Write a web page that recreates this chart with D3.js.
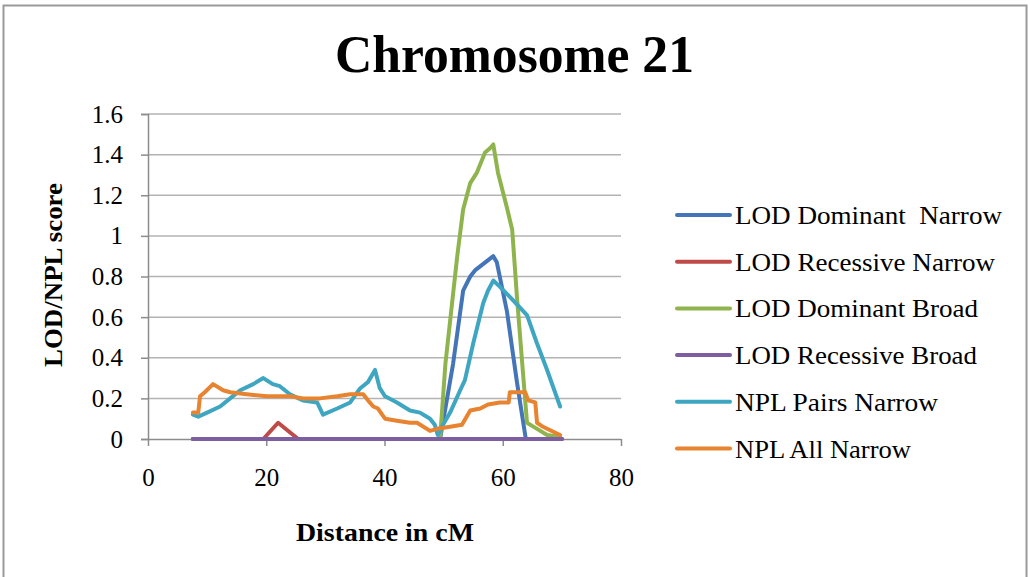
<!DOCTYPE html>
<html>
<head>
<meta charset="utf-8">
<script src="https://d3js.org/d3.v7.min.js"></script>
<style>
  body { margin: 0; background: #fff; }
  text { font-family: "Liberation Serif", "Times New Roman", serif; fill: #000; }
</style>
</head>
<body>
<div id="chart"></div>
<script>
// x positions (cM) and scores per series
const domNarrowX = [7.6, 49.4, 51.6, 53.3, 54.5, 55.3, 58.4, 59.0, 60.7, 62.4, 63.9, 70];
const domNarrowY = [0, 0, 0.37, 0.73, 0.80, 0.83, 0.90, 0.87, 0.63, 0.28, 0, 0];

const recNarrowX = [7.6, 19.5, 22.0, 25.4, 70];
const recNarrowY = [0, 0, 0.08, 0, 0];

const domBroadX = [7.6, 49.4, 50.3, 52.3, 53.3, 54.5, 55.6, 57.0, 57.8, 58.4, 59.2, 60.7, 61.6, 62.4, 63.3, 64.1, 65.8, 67.5, 69.7];
const domBroadY = [0, 0, 0.37, 0.90, 1.13, 1.26, 1.31, 1.41, 1.43, 1.45, 1.31, 1.14, 1.03, 0.70, 0.37, 0.08, 0.05, 0.02, 0.01];

const recBroadX = [7.6, 70];
const recBroadY = [0, 0];

const nplPairsX = [7.6, 8.5, 10, 12.2, 13.9, 15.6, 17.8, 19.5, 21.1, 22.3, 24, 26.2, 28.6, 29.6, 32, 34.2, 35.9, 37.2, 38.4, 39.2, 40.1, 42.1, 44.3, 46, 47.7, 48.5, 49.0, 49.7, 51.1, 52.8, 53.6, 55, 56.7, 57.5, 58.4, 59.5, 61.2, 64.1, 65.8, 67.5, 69.7];
const nplPairsY = [0.12, 0.11, 0.13, 0.16, 0.20, 0.24, 0.27, 0.30, 0.27, 0.26, 0.22, 0.19, 0.18, 0.12, 0.15, 0.18, 0.25, 0.28, 0.34, 0.25, 0.21, 0.18, 0.14, 0.13, 0.10, 0.07, 0.02, 0.06, 0.13, 0.24, 0.29, 0.47, 0.67, 0.73, 0.78, 0.75, 0.70, 0.61, 0.47, 0.34, 0.16];

const nplAllX = [7.6, 8.5, 8.8, 9.6, 11, 12.7, 13.9, 16.7, 20.1, 24, 26.2, 29.1, 32, 34.2, 36.4, 37.5, 38.1, 38.9, 39.6, 40.1, 42.1, 44.3, 45.5, 47.7, 48.9, 51.1, 53.1, 54.5, 56.2, 57.5, 59.5, 61.0, 61.2, 63.8, 64.3, 65.5, 65.8, 66.8, 69.7];
const nplAllY = [0.13, 0.13, 0.21, 0.23, 0.27, 0.24, 0.23, 0.22, 0.21, 0.21, 0.20, 0.20, 0.21, 0.22, 0.22, 0.18, 0.16, 0.15, 0.12, 0.10, 0.09, 0.08, 0.08, 0.04, 0.05, 0.06, 0.07, 0.14, 0.15, 0.17, 0.18, 0.18, 0.23, 0.23, 0.19, 0.18, 0.08, 0.06, 0.02];

const seriesNames = ['LOD Dominant  Narrow', 'LOD Recessive Narrow', 'LOD Dominant Broad', 'LOD Recessive Broad', 'NPL Pairs Narrow', 'NPL All Narrow'];
const seriesColors = ['#4475b8', '#be4b48', '#8fb44e', '#7d5ea0', '#3fa6c2', '#e8832f'];
const xTicks = [0, 20, 40, 60, 80];
const yTicks = [0, 0.2, 0.4, 0.6, 0.8, 1, 1.2, 1.4, 1.6];

const width = 1030, height = 577;
const plot = { left: 148, right: 621, top: 114, bottom: 439 };

const svg = d3.select('#chart').append('svg')
  .attr('width', width)
  .attr('height', height);

// 外枠
svg.append('rect')
  .attr('x', 3.5).attr('y', 5.5)
  .attr('width', 1023).attr('height', 600)
  .attr('fill', '#fff')
  .attr('stroke', '#9a9a9a')
  .attr('stroke-width', 2);

const x = d3.scaleLinear().domain([0, 80]).range([plot.left, plot.right]);
const y = d3.scaleLinear().domain([0, 1.6]).range([plot.bottom, plot.top]);

// gridlines
svg.append('g')
  .selectAll('line')
  .data(yTicks.slice(1))
  .enter().append('line')
  .attr('x1', plot.left).attr('x2', plot.right)
  .attr('y1', d => y(d)).attr('y2', d => y(d))
  .attr('stroke', '#b3b3b3')
  .attr('stroke-width', 1.5);

// y axis
const yAxis = svg.append('g')
  .attr('transform', `translate(${plot.left},0)`)
  .call(d3.axisLeft(y).tickValues(yTicks).tickSize(7).tickPadding(18).tickFormat(d3.format('')));
yAxis.selectAll('line').attr('stroke', '#8c8c8c').attr('stroke-width', 1.5);
yAxis.select('.domain').attr('stroke', '#8c8c8c').attr('stroke-width', 1.5);
yAxis.selectAll('text')
  .style('font-family', '"Liberation Serif", serif')
  .style('font-size', '25px')
  .attr('fill', '#000');

// x axis
const xAxis = svg.append('g')
  .attr('transform', `translate(0,${plot.bottom})`)
  .call(d3.axisBottom(x).tickValues(xTicks).tickSize(7).tickPadding(22).tickSizeOuter(0));
xAxis.selectAll('line').attr('stroke', '#8c8c8c').attr('stroke-width', 1.5);
xAxis.select('.domain').attr('stroke', '#8c8c8c').attr('stroke-width', 1.5);
xAxis.selectAll('text')
  .style('font-family', '"Liberation Serif", serif')
  .style('font-size', '25px')
  .attr('fill', '#000');

// series lines
const seriesData = [
  [domNarrowX, domNarrowY],
  [recNarrowX, recNarrowY],
  [domBroadX, domBroadY],
  [recBroadX, recBroadY],
  [nplPairsX, nplPairsY],
  [nplAllX, nplAllY]
].map(s => s[0].map((v, i) => [v, s[1][i]]));

const line = d3.line()
  .x(d => x(d[0]))
  .y(d => y(d[1]));

svg.append('g')
  .selectAll('path')
  .data(seriesData)
  .enter().append('path')
  .attr('d', line)
  .attr('fill', 'none')
  .attr('stroke', (d, i) => seriesColors[i])
  .attr('stroke-width', 4)
  .attr('stroke-linejoin', 'round')
  .attr('stroke-linecap', 'round');

// title
svg.append('text')
  .attr('x', 514.5).attr('y', 72)
  .attr('text-anchor', 'middle')
  .attr('textLength', 359)
  .attr('lengthAdjust', 'spacingAndGlyphs')
  .style('font-size', '52px')
  .style('font-weight', 'bold')
  .text('Chromosome 21');

// axis titles
svg.append('text')
  .attr('x', 385).attr('y', 541)
  .attr('text-anchor', 'middle')
  .attr('textLength', 178)
  .attr('lengthAdjust', 'spacingAndGlyphs')
  .style('font-size', '25px')
  .style('font-weight', 'bold')
  .text('Distance in cM');

svg.append('text')
  .attr('transform', 'translate(62,275) rotate(-90)')
  .attr('text-anchor', 'middle')
  .attr('textLength', 184)
  .attr('lengthAdjust', 'spacingAndGlyphs')
  .style('font-size', '25px')
  .style('font-weight', 'bold')
  .text('LOD/NPL score');

// legend
const legendWidths = [267, 260, 243, 242, 203, 176];
const legend = svg.append('g')
  .selectAll('g')
  .data(seriesNames)
  .enter().append('g')
  .attr('transform', (d, i) => `translate(677,${215 + i * 46.7})`);

legend.append('line')
  .attr('x1', 0).attr('x2', 53)
  .attr('stroke', (d, i) => seriesColors[i])
  .attr('stroke-width', 4)
  .attr('stroke-linecap', 'round');

legend.append('text')
  .attr('x', 58).attr('y', 9)
  .attr('textLength', (d, i) => legendWidths[i])
  .attr('lengthAdjust', 'spacingAndGlyphs')
  .style('font-size', '26px')
  .style('white-space', 'pre')
  .text(d => d);
</script>
</body>
</html>
